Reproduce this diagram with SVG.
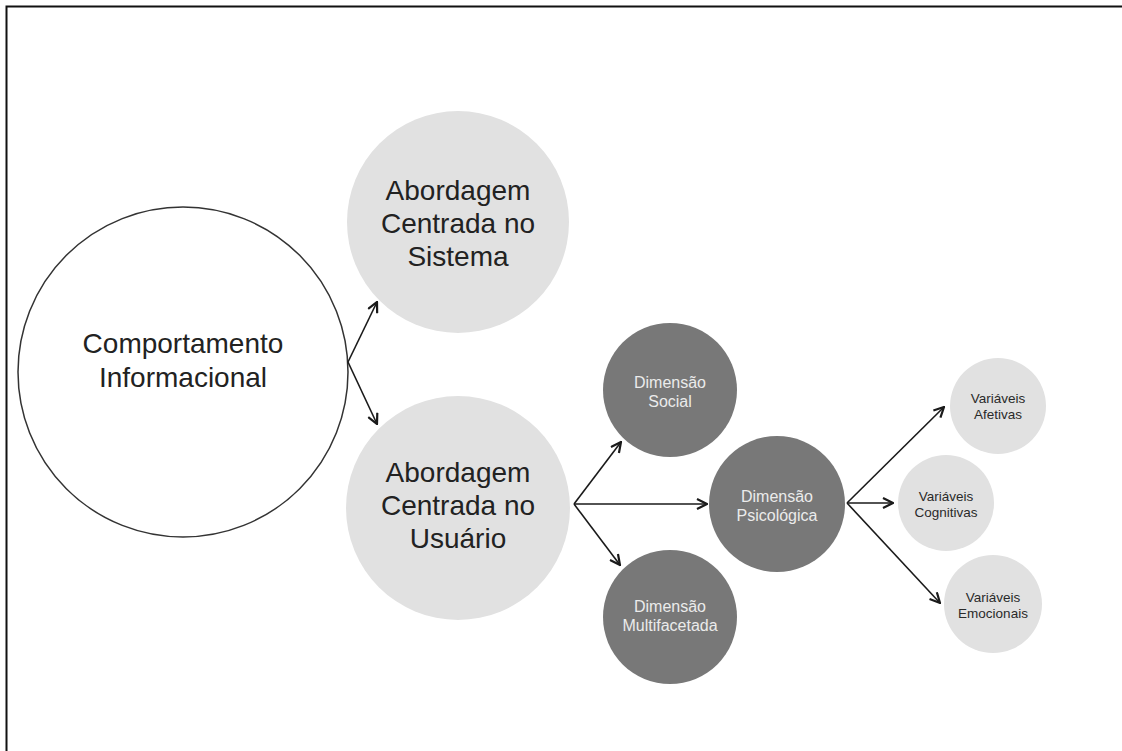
<svg xmlns="http://www.w3.org/2000/svg" width="1122" height="751" viewBox="0 0 1122 751">
<style>
.frame{fill:none;stroke:#111;stroke-width:2}
.main{fill:#fff;stroke:#333;stroke-width:1.5}
.light{fill:#e1e1e1}
.dark{fill:#787878}
.t{font-family:"Liberation Sans",Arial,sans-serif;text-anchor:middle}
.tl{font-size:28px;fill:#222}
.td{font-size:16px;fill:#ebebeb}
.tv{font-size:13.5px;fill:#2a2a2a}
.conn line{stroke:#1a1a1a;stroke-width:1.6;marker-end:url(#arr)}
</style>
<defs>
<marker id="arr" viewBox="0 0 12 12" refX="11" refY="6" markerWidth="12" markerHeight="12" markerUnits="userSpaceOnUse" orient="auto">
<path d="M1,1 L11,6 L1,11" fill="none" stroke="#1a1a1a" stroke-width="2.2" stroke-linejoin="miter"/>
</marker>
</defs>
<rect class="frame" x="6.5" y="6.5" width="1200" height="800"/>
<g id="comportamento">
<circle class="main" cx="183" cy="372" r="165"/>
<text class="t tl" x="183" y="353">Comportamento</text>
<text class="t tl" x="183" y="387">Informacional</text>
</g>
<g id="sistema">
<circle class="light" cx="458" cy="222" r="111"/>
<text class="t tl" x="458" y="200">Abordagem</text>
<text class="t tl" x="458" y="233">Centrada no</text>
<text class="t tl" x="458" y="266">Sistema</text>
</g>
<g id="usuario">
<circle class="light" cx="458" cy="508" r="112"/>
<text class="t tl" x="458" y="482">Abordagem</text>
<text class="t tl" x="458" y="515">Centrada no</text>
<text class="t tl" x="458" y="548">Usuário</text>
</g>
<g id="social">
<circle class="dark" cx="670" cy="390" r="67"/>
<text class="t td" x="670" y="388">Dimensão</text>
<text class="t td" x="670" y="407">Social</text>
</g>
<g id="psicologica">
<circle class="dark" cx="777" cy="504" r="68"/>
<text class="t td" x="777" y="502">Dimensão</text>
<text class="t td" x="777" y="521">Psicológica</text>
</g>
<g id="multifacetada">
<circle class="dark" cx="670" cy="617" r="67"/>
<text class="t td" x="670" y="612">Dimensão</text>
<text class="t td" x="670" y="631">Multifacetada</text>
</g>
<g id="afetivas">
<circle class="light" cx="998" cy="406" r="48"/>
<text class="t tv" x="998" y="403">Variáveis</text>
<text class="t tv" x="998" y="419">Afetivas</text>
</g>
<g id="cognitivas">
<circle class="light" cx="946" cy="503" r="48"/>
<text class="t tv" x="946" y="501">Variáveis</text>
<text class="t tv" x="946" y="517">Cognitivas</text>
</g>
<g id="emocionais">
<circle class="light" cx="993" cy="604" r="49"/>
<text class="t tv" x="993" y="602">Variáveis</text>
<text class="t tv" x="993" y="618">Emocionais</text>
</g>
<g id="connectors" class="conn">
<line x1="348" y1="362" x2="377" y2="302"/>
<line x1="348" y1="362" x2="377" y2="424"/>
<line x1="574" y1="504" x2="621" y2="442"/>
<line x1="574" y1="504" x2="707" y2="504"/>
<line x1="574" y1="504" x2="620" y2="565"/>
<line x1="847" y1="503" x2="944" y2="407"/>
<line x1="847" y1="503" x2="893" y2="503"/>
<line x1="847" y1="503" x2="940" y2="603"/>
</g>
</svg>
